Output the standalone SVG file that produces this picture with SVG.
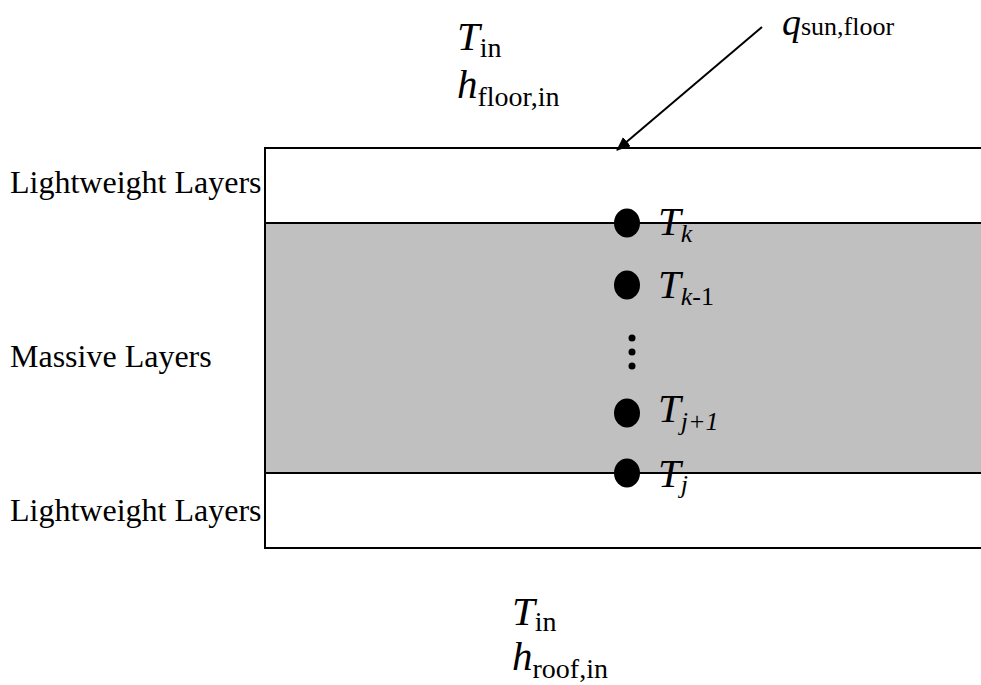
<svg xmlns="http://www.w3.org/2000/svg" width="981" height="685" viewBox="0 0 981 685" font-family="'Liberation Serif', Tinos, 'Times New Roman', serif">
<style>
text{font-family:'Liberation Serif', Tinos, 'Times New Roman', serif;fill:#000}
.lbl{font-size:32px}
.v{font-size:41px;font-style:italic}
.s{font-size:26px;font-style:normal}
.s2{font-size:28px;font-style:normal}
.si{font-size:26px;font-style:italic}
.ln{stroke:#000;stroke-width:2;fill:none}
</style>
<defs>
<marker id="ah" markerWidth="14" markerHeight="12" refX="13" refY="6" orient="auto" markerUnits="userSpaceOnUse" viewBox="0 0 14 12">
<path d="M0,0 L14,6 L0,12 z" fill="#000"/>
</marker>
</defs>
<rect width="981" height="685" fill="#fff"/>
<g id="slab">
<rect x="265" y="223" width="720" height="250" fill="#c0c0c0"/>
<path class="ln" d="M985,148 H265 V548 H985 M265,223 H985 M265,473 H985"/>
</g>
<g id="labels-left">
<text class="lbl" x="10" y="193">Lightweight Layers</text>
<text class="lbl" x="10" y="367">Massive Layers</text>
<text class="lbl" x="10" y="521">Lightweight Layers</text>
</g>
<g id="top-cond">
<text x="457" y="50" class="v">T<tspan class="s2" dy="7">in</tspan></text>
<text x="457" y="98" class="v">h<tspan class="s2" dy="8">floor,in</tspan></text>
</g>
<g id="bottom-cond">
<text x="512" y="625" class="v">T<tspan class="s2" dy="6">in</tspan></text>
<text x="512" y="670" class="v">h<tspan class="s2" dy="8">roof,in</tspan></text>
</g>
<g id="q-sun">
<text x="782" y="35" class="v" style="font-size:38px">q<tspan class="s" dy="0">sun,floor</tspan></text>
</g>
<g id="connectors">
<path class="ln" d="M762,27 L617,150" marker-end="url(#ah)"/>
</g>
<g id="node-Tk">
<ellipse cx="627" cy="223" rx="13" ry="14.5" fill="#000"/>
<text x="658" y="235" class="v">T<tspan class="si" dy="7">k</tspan></text>
</g>
<g id="node-Tk1">
<ellipse cx="627" cy="285" rx="13" ry="14.5" fill="#000"/>
<text x="658" y="298" class="v">T<tspan class="si" dy="7">k</tspan><tspan class="s">-1</tspan></text>
</g>
<g id="ellipsis">
<circle cx="632" cy="338" r="3.5" fill="#000"/>
<circle cx="632" cy="352" r="3.5" fill="#000"/>
<circle cx="632" cy="366" r="3.5" fill="#000"/>
</g>
<g id="node-Tj1">
<ellipse cx="627" cy="413" rx="13" ry="14.5" fill="#000"/>
<text x="658" y="422" class="v">T<tspan class="si" dy="8">j+1</tspan></text>
</g>
<g id="node-Tj">
<ellipse cx="627" cy="473" rx="13" ry="14.5" fill="#000"/>
<text x="658" y="487" class="v">T<tspan class="si" dy="6">j</tspan></text>
</g>
</svg>
